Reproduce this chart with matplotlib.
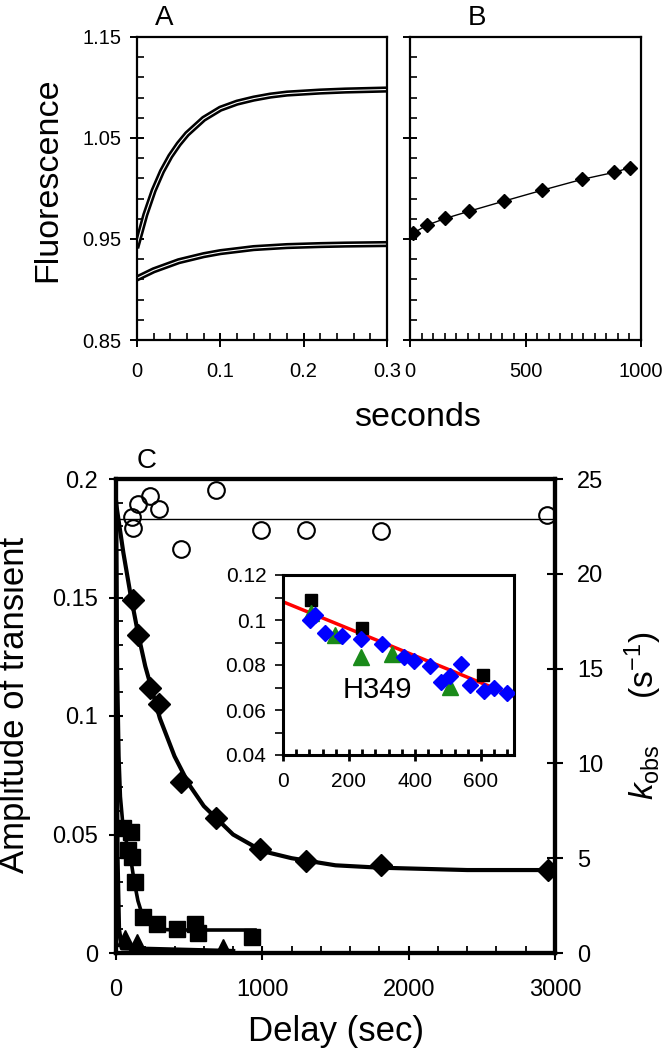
import matplotlib
matplotlib.use("Agg")
import matplotlib.pyplot as plt
import numpy as np
from matplotlib.ticker import FixedLocator, MultipleLocator

plt.rcParams["font.family"] = ["Liberation Sans", "DejaVu Sans"]
plt.rcParams["mathtext.fontset"] = "custom"
plt.rcParams["mathtext.rm"] = "Liberation Sans"
plt.rcParams["mathtext.it"] = "Liberation Sans:italic"

# panel A: stopped-flow fluorescence traces and their fits
trace_t = [0, 0.01, 0.02, 0.03, 0.04, 0.05, 0.06, 0.08, 0.10, 0.12, 0.14,
           0.16, 0.18, 0.20, 0.22, 0.25, 0.30]
trace_upper = [0.944, 0.974, 0.998, 1.017, 1.032, 1.044, 1.054, 1.069, 1.079,
               1.085, 1.089, 1.092, 1.094, 1.095, 1.096, 1.097, 1.098]
trace_lower = [0.911, 0.915, 0.919, 0.922, 0.925, 0.928, 0.930, 0.934, 0.937,
               0.939, 0.941, 0.942, 0.943, 0.9435, 0.944, 0.9445, 0.945]

# panel B: slow fluorescence change
b_time = [12, 75, 152, 256, 405, 571, 744, 884, 951]
b_fluor = [0.9556, 0.9638, 0.9703, 0.9775, 0.9874, 0.9982, 1.009, 1.016, 1.0205]

# panel C: amplitudes (left axis) and kobs (right axis) vs delay
kobs_delay = [107, 118, 152, 232, 296, 444, 683, 989, 1298, 1809, 2947]
kobs = [22.98, 22.40, 23.68, 24.10, 23.40, 21.31, 24.42, 22.31, 22.31, 22.27, 23.10]
kobs_mean = 22.9

diamond_delay = [119, 152, 232, 296, 444, 683, 984, 1298, 1809, 2955]
diamond_amp = [0.149, 0.134, 0.112, 0.105, 0.072, 0.057, 0.044, 0.039, 0.037, 0.035]
diamond_fit_delay = [0, 50, 100, 150, 200, 300, 400, 500, 600, 800, 1000,
                     1200, 1500, 1800, 2400, 3000]
diamond_fit_amp = [0.190, 0.169, 0.151, 0.135, 0.121, 0.099, 0.083, 0.071,
                   0.062, 0.050, 0.043, 0.040, 0.037, 0.036, 0.035, 0.035]

square_delay = [50, 102, 84, 107, 130, 187, 278, 415, 540, 563, 927]
square_amp = [0.0526, 0.0512, 0.0435, 0.0406, 0.0300, 0.0153, 0.0122, 0.0100,
              0.0122, 0.0083, 0.0069]
square_fit_delay = [0, 10, 20, 30, 50, 75, 100, 125, 150, 175, 200, 250, 300,
                    400, 600, 950]
square_fit_amp = [0.190, 0.118, 0.083, 0.066, 0.052, 0.046, 0.040, 0.030,
                  0.022, 0.017, 0.014, 0.011, 0.0100, 0.0097, 0.0097, 0.0097]

triangle_delay = [62, 141, 733]
triangle_amp = [0.0062, 0.0048, 0.0027]
triangle_fit_delay = [0, 5, 10, 20, 40, 800]
triangle_fit_amp = [0.190, 0.090, 0.040, 0.010, 0.002, 0.0008]

# inset: H349
inset_sq_x = [84, 240, 606]
inset_sq_y = [0.1089, 0.0966, 0.0756]
inset_tri_x = [84, 158, 235, 329, 506]
inset_tri_y = [0.1030, 0.0933, 0.0837, 0.0847, 0.0704]
inset_dia_x = [82, 97, 128, 179, 235, 299, 368, 397, 445, 478, 506, 540, 567,
               608, 639, 678]
inset_dia_y = [0.1000, 0.1022, 0.0944, 0.0929, 0.0914, 0.0892, 0.0834, 0.0819,
               0.0796, 0.0726, 0.0751, 0.0803, 0.0711, 0.0686, 0.0696, 0.0677]
inset_fit_x = [0, 700]
inset_fit_y = [0.1081, 0.0661]

W, H = 669, 1050
fig = plt.figure(figsize=(W / 100, H / 100), dpi=100)


def box(left, top, right, bottom):
    return [left / W, 1 - bottom / H, (right - left) / W, (bottom - top) / H]


def style_spines(ax, lw):
    for s in ax.spines.values():
        s.set_linewidth(lw)


# ---- panel A ----
axA = fig.add_axes(box(137, 37, 387, 340))
axA.plot(trace_t, trace_upper, color="black", lw=4.5)
axA.plot(trace_t, trace_lower, color="black", lw=4.5)
axA.plot(trace_t, trace_upper, color="white", lw=0.8)
axA.plot(trace_t, trace_lower, color="white", lw=0.8)
axA.set_xlim(0, 0.3)
axA.set_ylim(0.85, 1.15)
axA.yaxis.set_major_locator(FixedLocator([0.85, 0.95, 1.05, 1.15]))
axA.yaxis.set_minor_locator(FixedLocator(np.arange(0.85, 1.151, 0.02)))
axA.set_yticklabels(["0.85", "0.95", "1.05", "1.15"])
axA.xaxis.set_major_locator(FixedLocator([0, 0.1, 0.2, 0.3]))
axA.xaxis.set_minor_locator(MultipleLocator(0.02))
axA.set_xticklabels(["0", "0.1", "0.2", "0.3"])
style_spines(axA, 1.6)
axA.tick_params(which="major", direction="inout", length=10, width=1.4,
                labelsize=14.5, pad=6)
axA.tick_params(axis="x", which="major", pad=11)
axA.tick_params(which="minor", direction="in", length=5, width=1.2)
axA.text(0.11, 1.02, "A", transform=axA.transAxes, fontsize=20,
         ha="center", va="bottom")

# ---- panel B ----
axB = fig.add_axes(box(410, 37, 641, 340))
axB.plot(b_time, b_fluor, color="black", lw=1, marker="D", ms=7.5)
axB.set_xlim(0, 1000)
axB.set_ylim(0.85, 1.15)
axB.yaxis.set_major_locator(FixedLocator([0.85, 0.95, 1.05, 1.15]))
axB.yaxis.set_minor_locator(FixedLocator(np.arange(0.85, 1.151, 0.02)))
axB.set_yticklabels([])
axB.xaxis.set_major_locator(MultipleLocator(500))
axB.xaxis.set_minor_locator(MultipleLocator(50))
style_spines(axB, 1.6)
axB.tick_params(which="major", direction="inout", length=10, width=1.4,
                labelsize=14.5, pad=11)
axB.tick_params(which="minor", direction="in", length=5, width=1.2)
axB.text(0.29, 1.02, "B", transform=axB.transAxes, fontsize=20,
         ha="center", va="bottom")

fig.text(48 / W, 1 - 180 / H, "Fluorescence", rotation=90, fontsize=24.5,
         ha="center", va="center")
fig.text(418 / W, 1 - 417 / H, "seconds", fontsize=24.5, ha="center",
         va="center")

# ---- panel C ----
axC = fig.add_axes(box(116, 479, 555, 953))
axC.plot(diamond_fit_delay, diamond_fit_amp, color="black", lw=3)
axC.plot(square_fit_delay, square_fit_amp, color="black", lw=2.6)
axC.plot(triangle_fit_delay, triangle_fit_amp, color="black", lw=3.2)
axC.plot(diamond_delay, diamond_amp, "D", color="black", ms=11.5)
axC.plot(square_delay, square_amp, "s", color="black", ms=12)
axC.plot(triangle_delay, triangle_amp, "^", color="black", ms=11)
axC.set_xlim(0, 3000)
axC.set_ylim(0, 0.2)
axC.yaxis.set_major_locator(FixedLocator([0, 0.05, 0.1, 0.15, 0.2]))
axC.set_yticklabels(["0", "0.05", "0.1", "0.15", "0.2"])
axC.yaxis.set_minor_locator(MultipleLocator(0.01))
axC.xaxis.set_major_locator(MultipleLocator(1000))
axC.xaxis.set_minor_locator(MultipleLocator(200))
style_spines(axC, 3)
axC.tick_params(which="major", direction="inout", length=10, width=1.5,
                labelsize=17, pad=8)
axC.tick_params(axis="x", which="major", pad=14)
axC.tick_params(which="minor", direction="in", length=5, width=1.3)
axC.set_xlabel("Delay (sec)", fontsize=25, labelpad=10)
axC.text(0.07, 1.01, "C", transform=axC.transAxes, fontsize=20,
         ha="center", va="bottom")
fig.text(15 / W, 1 - 705 / H, "Amplitude of transient", rotation=90,
         fontsize=25, ha="center", va="center")

axK = axC.twinx()
axK.axhline(kobs_mean, color="black", lw=1)
axK.plot(kobs_delay, kobs, "o", mfc="none", mec="black", mew=1.5, ms=12,
         clip_on=False)
axK.set_ylim(0, 25)
axK.yaxis.set_major_locator(MultipleLocator(5))
style_spines(axK, 3)
axK.tick_params(which="major", direction="inout", length=12, width=1.5,
                labelsize=17, pad=10)
axK.set_ylabel(r"$k_{\rm obs}$     (s$^{-1}$)", fontsize=24, labelpad=14)

# ---- inset ----
axI = fig.add_axes(box(283, 575, 514, 755))
axI.plot(inset_fit_x, inset_fit_y, color="red", lw=2.5, zorder=1)
axI.plot(inset_sq_x, inset_sq_y, "s", color="black", ms=8.5, zorder=2)
axI.plot(inset_tri_x, inset_tri_y, "^", color="#1a8a1a", ms=11, zorder=2)
axI.plot(inset_dia_x, inset_dia_y, "D", color="blue", ms=8.5, zorder=3)
axI.set_xlim(0, 700)
axI.set_ylim(0.04, 0.12)
axI.xaxis.set_major_locator(MultipleLocator(200))
axI.xaxis.set_minor_locator(MultipleLocator(40))
axI.yaxis.set_major_locator(FixedLocator([0.04, 0.06, 0.08, 0.1, 0.12]))
axI.set_yticklabels(["0.04", "0.06", "0.08", "0.1", "0.12"])
axI.yaxis.set_minor_locator(MultipleLocator(0.01))
style_spines(axI, 2.2)
axI.tick_params(axis="x", which="major", direction="inout", length=9,
                width=2, labelsize=15, pad=8)
axI.tick_params(axis="x", which="minor", direction="in", length=4, width=2)
axI.tick_params(axis="y", which="both", direction="out", length=6, width=1.2,
                labelsize=15, pad=6)
axI.tick_params(axis="y", which="minor", labelleft=False)
axI.text(0.41, 0.36, "H349", transform=axI.transAxes, fontsize=21,
         ha="center", va="center")

fig.savefig("out.png", dpi=100)
